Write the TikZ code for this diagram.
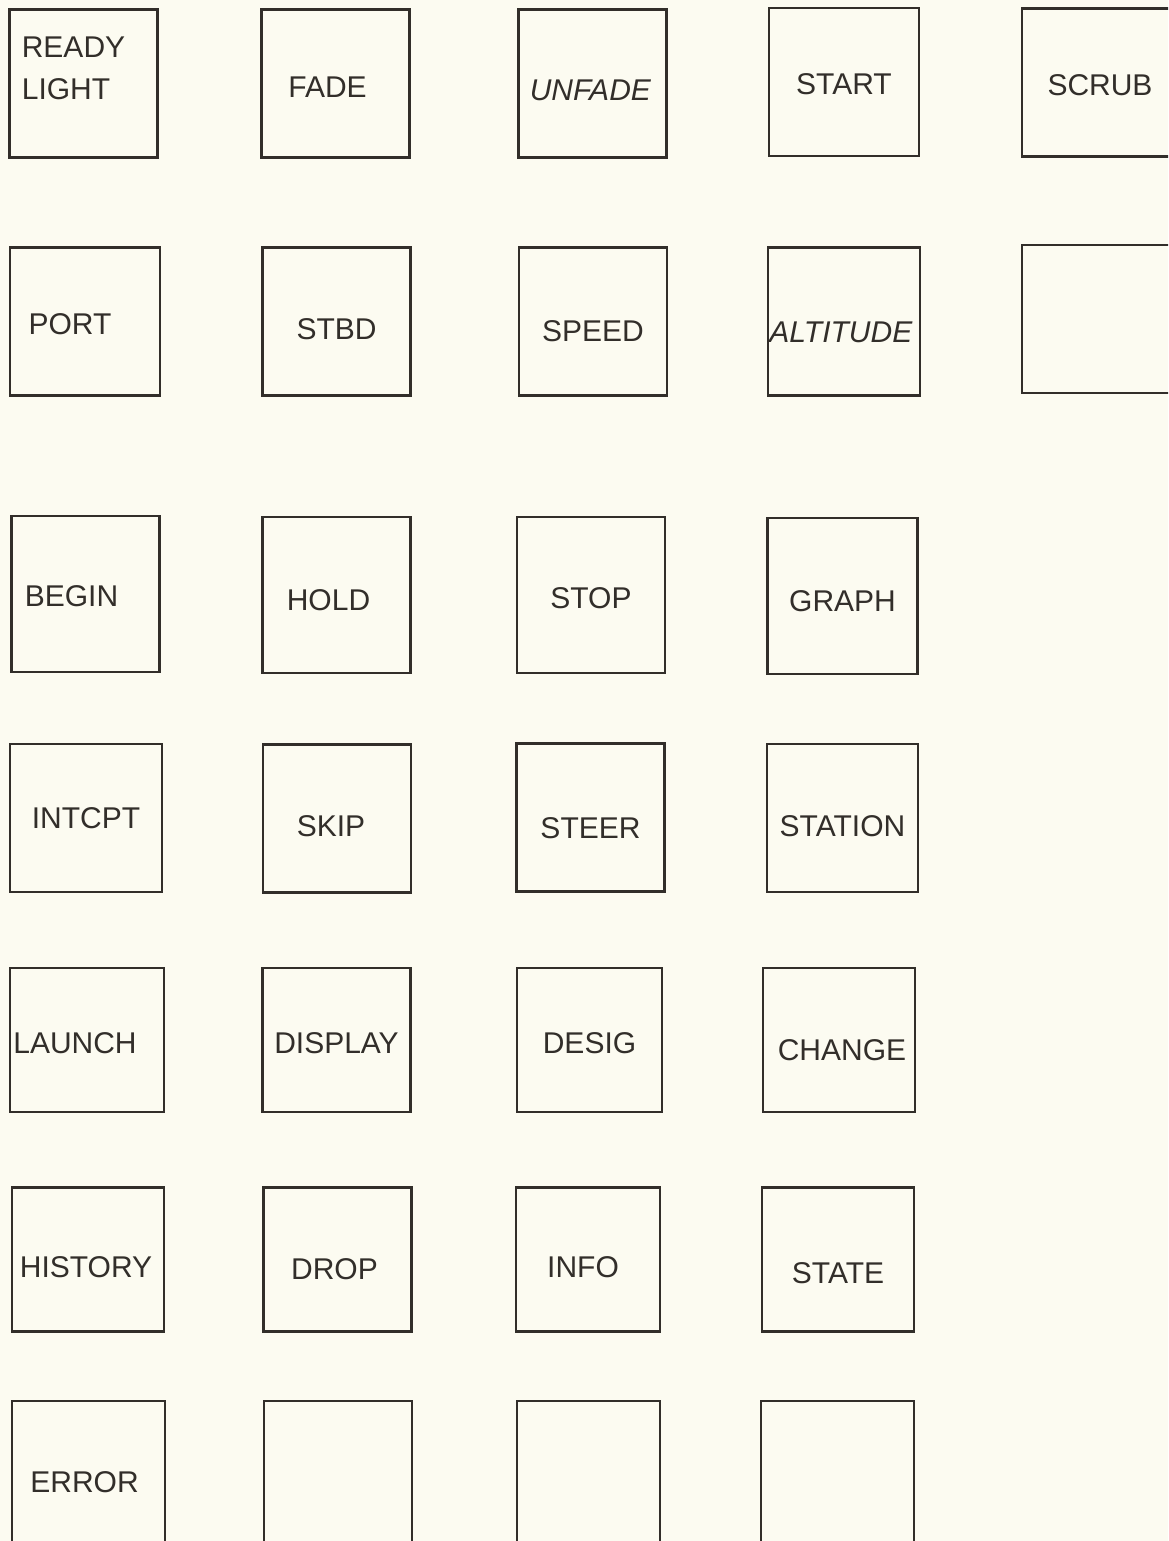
\documentclass[tikz,border=0pt]{standalone}
\usepackage{fontspec}
\setmainfont{Liberation Sans}
\usepackage{xcolor}
\usetikzlibrary{positioning}
\definecolor{paper}{RGB}{252,251,241}
\definecolor{ink}{RGB}{50,46,42}
\tikzset{
  keybox/.style   = {rectangle, draw=ink, line width=1.2pt,
                     minimum width=74pt, minimum height=74pt, inner sep=0pt},
  keytall/.style  = {keybox, minimum height=78pt},
  keyshort/.style = {keybox, minimum height=72pt},
  keylab/.style   = {text=ink, align=center, inner sep=0pt,
                     font=\fontsize{15}{21}\selectfont},
}

\begin{document}
\begin{tikzpicture}[x=0.5pt, y=-0.5pt]
  \useasboundingbox (0,0) rectangle (1168,1541);
  \clip (0,0) rectangle (1168,1541);
  \fill[paper] (0,0) rectangle (1168,1541);

  % row 1
  \node[keybox, label={[keylab, align=left, shift={(-10,-15)}]center:READY\\LIGHT}] (ready) at (83.5,83.5) {};
  \node[keybox, label={[keylab, shift={(-8,4)}]center:FADE}] (fade) at (335.5,83.5) {};
  \node[keybox, label={[keylab, shift={(-2,7)}]center:\textit{UNFADE}}] (unfade) at (592.5,83.5) {};
  \node[keybox, minimum width=75pt, label={[keylab, shift={(0,2)}]center:START}] (start) at (844,82) {};
  \node[keybox, minimum width=75pt, label={[keylab, shift={(3,3)}]center:SCRUB}] (scrub) at (1097,82.5) {};

  % row 2
  \node[keybox, minimum width=75pt, label={[keylab, shift={(-15,3)}]center:PORT}] (port) at (85,321.5) {};
  \node[keybox, label={[keylab, shift={(0,8)}]center:STBD}] (stbd) at (336.5,321.5) {};
  \node[keybox, label={[keylab, shift={(0,10)}]center:SPEED}] (speed) at (593,321.5) {};
  \node[keybox, minimum width=76pt, label={[keylab, shift={(-3,11)}]center:\textit{ALTITUDE}}] (alt) at (844,321.5) {};
  \node[keybox, minimum width=75pt] (spare) at (1097,319) {};

  % row 3
  \node[keytall, label={[keylab, shift={(-14,2)}]center:BEGIN}] (begin) at (85.5,594) {};
  \node[keytall, label={[keylab, shift={(-8,5)}]center:HOLD}] (hold) at (336.5,595) {};
  \node[keytall, label={[keylab, shift={(0,3)}]center:STOP}] (stop) at (591,595) {};
  \node[keytall, minimum width=75pt, label={[keylab, shift={(0,5)}]center:GRAPH}] (graph) at (842.5,596) {};

  % row 4
  \node[keybox, minimum width=76pt, label={[keylab]center:INTCPT}] (intcpt) at (86,818) {};
  \node[keybox, label={[keylab, shift={(-6,8)}]center:SKIP}] (skip) at (337,818.5) {};
  \node[keybox, label={[keylab, shift={(0,11)}]center:STEER}] (steer) at (590.5,817.5) {};
  \node[keybox, minimum width=75.5pt, label={[keylab, shift={(0,8)}]center:STATION}] (station) at (842.5,818) {};

  % row 5
  \node[keyshort, minimum width=77pt, label={[keylab, shift={(-12,3)}]center:LAUNCH}] (launch) at (87,1040) {};
  \node[keyshort, label={[keylab, shift={(0,3)}]center:DISPLAY}] (display) at (336.5,1040) {};
  \node[keyshort, minimum width=72.5pt, label={[keylab, shift={(0,3)}]center:DESIG}] (desig) at (589.5,1040) {};
  \node[keyshort, minimum width=76pt, label={[keylab, shift={(3,10)}]center:CHANGE}] (change) at (839,1040) {};

  % row 6
  \node[keyshort, minimum width=76pt, label={[keylab, shift={(-2,8)}]center:HISTORY}] (history) at (88,1259.5) {};
  \node[keyshort, label={[keylab, shift={(-3,10)}]center:DROP}] (drop) at (337.5,1259.5) {};
  \node[keyshort, minimum width=72pt, label={[keylab, shift={(-5,8)}]center:INFO}] (info) at (588,1259.5) {};
  \node[keyshort, minimum width=76pt, label={[keylab, shift={(0,14)}]center:STATE}] (state) at (838,1259.5) {};

  % row 7
  \node[keybox, minimum width=76.5pt, label={[keylab, shift={(-4,7)}]center:ERROR}] (error) at (88.5,1475) {};
  \node[keybox] (blanka) at (338,1475) {};
  \node[keybox, minimum width=71.5pt] (blankb) at (588.5,1475) {};
  \node[keybox, minimum width=76.5pt] (blankc) at (837.5,1475) {};
\end{tikzpicture}
\end{document}
